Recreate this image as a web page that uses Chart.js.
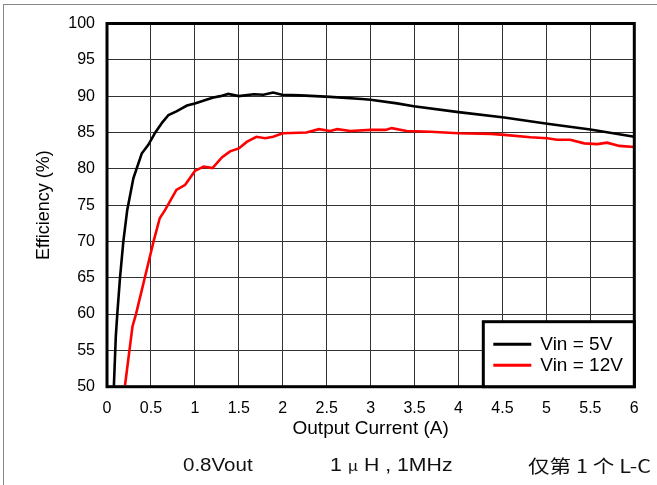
<!DOCTYPE html>
<html lang="zh">
<head>
  <meta charset="UTF-8">
  <script src="https://cdn.jsdelivr.net/npm/chart.js"></script>
  <title>Efficiency vs Output Current</title>
  <style>
    html, body { margin: 0; padding: 0; background: #fff; }
    .page {
      position: relative;
      width: 657px;
      height: 485px;
      overflow: hidden;
      font-family: 'Liberation Sans', Arial, sans-serif;
    }
    .frame {
      position: absolute;
      left: 3px; top: 4px; right: -10px; bottom: -10px;
      border-top: 1.5px solid #888;
      border-left: 1.5px solid #888;
    }
    canvas { position: absolute; left: 0; top: 0; }
    .note {
      position: absolute;
      top: 453px;
      font-size: 18px;
      line-height: 24px;
      color: #111;
      white-space: nowrap;
      transform-origin: left center;
    }
    .mu { font-family: 'Noto Sans CJK SC', serif; font-size: 14px; }
    .cjk { font-family: 'Noto Sans CJK SC', 'Liberation Sans', sans-serif; }
  </style>
</head>
<body>
  <div class="page">
    <div class="frame"></div>
    <canvas id="effChart" width="657" height="485"></canvas>
    <div class="note" style="left:183px; transform:scaleX(1.14)">0.8Vout</div>
    <div class="note" style="left:330px; transform:scaleX(1.18)">1 <span class="mu">μ</span> H , 1MHz</div>
    <div class="note cjk" style="left:528px; transform:scaleX(1.2)">仅第 1 个 L-C</div>
  </div>

  <script>
    // Vin = 5V
    const vin5Current = [0.078, 0.10, 0.117, 0.148, 0.186, 0.23, 0.30, 0.395, 0.47, 0.55, 0.63, 0.70, 0.79, 0.91, 1.0, 1.13, 1.21, 1.29, 1.38, 1.50, 1.67, 1.78, 1.89, 1.99, 2.2, 2.54, 2.9, 3.0, 3.30, 3.49, 4.0, 4.52, 5.01, 5.50, 6.0];
    const vin5Eff = [50, 56.9, 60, 65, 70, 74.3, 78.7, 82.1, 83.3, 85.0, 86.4, 87.4, 87.9, 88.7, 89.0, 89.5, 89.8, 90.0, 90.3, 90.0, 90.25, 90.2, 90.5, 90.2, 90.1, 89.9, 89.6, 89.5, 89.0, 88.6, 87.8, 87.05, 86.2, 85.4, 84.4];

    // Vin = 12V
    const vin12Current = [0.205, 0.29, 0.33, 0.43, 0.53, 0.60, 0.66, 0.79, 0.89, 1.0, 1.10, 1.20, 1.31, 1.40, 1.50, 1.59, 1.70, 1.80, 1.89, 2.0, 2.27, 2.41, 2.54, 2.62, 2.77, 3.0, 3.17, 3.24, 3.41, 3.68, 4.0, 4.37, 4.52, 4.82, 5.01, 5.12, 5.27, 5.43, 5.58, 5.69, 5.83, 6.0];
    const vin12Eff = [50.2, 58.3, 60, 65, 70, 73.2, 74.3, 77.1, 77.8, 79.7, 80.3, 80.1, 81.6, 82.4, 82.8, 83.7, 84.4, 84.2, 84.4, 84.9, 85.0, 85.45, 85.2, 85.45, 85.2, 85.35, 85.35, 85.6, 85.2, 85.1, 84.9, 84.8, 84.67, 84.35, 84.2, 84.0, 84.0, 83.5, 83.4, 83.6, 83.15, 83.0];

    const seriesLabels = ['Vin = 5V', 'Vin = 12V'];
    const xTickLabels = ['0', '0.5', '1', '1.5', '2', '2.5', '3', '3.5', '4', '4.5', '5', '5.5', '6'];
    const yTickLabels = ['50', '55', '60', '65', '70', '75', '80', '85', '90', '95', '100'];

    const toPoints = (xs, ys) => xs.map((x, i) => ({ x: x, y: ys[i] }));

    // frame around plot + legend box in the lower right corner
    const framePlugin = {
      id: 'frame',
      afterDatasetsDraw(chart) {
        const ctx = chart.ctx;
        const a = chart.chartArea;
        ctx.save();
        ctx.strokeStyle = '#000';
        ctx.lineWidth = 3;
        ctx.strokeRect(a.left, a.top, a.right - a.left, a.bottom - a.top);

        const bx = a.right - 151, by = a.bottom - 65;
        ctx.fillStyle = '#fff';
        ctx.fillRect(bx, by, a.right - bx, a.bottom - by);
        ctx.strokeRect(bx, by, a.right - bx, a.bottom - by);

        ctx.font = '19px "Liberation Sans", Arial, sans-serif';
        ctx.textBaseline = 'middle';
        chart.data.datasets.forEach((ds, i) => {
          const y = by + 22.5 + i * 21;
          ctx.strokeStyle = ds.borderColor;
          ctx.lineWidth = 3;
          ctx.beginPath();
          ctx.moveTo(bx + 10, y);
          ctx.lineTo(bx + 48, y);
          ctx.stroke();
          ctx.fillStyle = '#000';
          ctx.fillText(ds.label, bx + 57, y + 1);
        });
        ctx.restore();
      }
    };

    const ctx = document.getElementById('effChart').getContext('2d');
    new Chart(ctx, {
      type: 'line',
      data: {
        datasets: [
          {
            label: seriesLabels[0],
            data: toPoints(vin5Current, vin5Eff),
            borderColor: '#000000',
            borderWidth: 2.6,
            pointRadius: 0,
            tension: 0
          },
          {
            label: seriesLabels[1],
            data: toPoints(vin12Current, vin12Eff),
            borderColor: '#ff0000',
            borderWidth: 2.6,
            pointRadius: 0,
            tension: 0
          }
        ]
      },
      options: {
        responsive: false,
        animation: false,
        layout: { padding: { left: 29, top: 23.5, right: 22.7, bottom: 41.5 } },
        plugins: {
          legend: { display: false },
          tooltip: { enabled: false }
        },
        scales: {
          x: {
            type: 'linear',
            min: 0,
            max: 6,
            afterFit: (s) => { s.height = 56.8; },
            border: { display: false },
            grid: { color: '#333', lineWidth: 1, drawTicks: false },
            ticks: {
              stepSize: 0.5,
              autoSkip: false,
              maxRotation: 0,
              padding: 12.7,
              color: '#000',
              font: { family: '"Liberation Sans", Arial, sans-serif', size: 16 },
              callback: (v, i) => xTickLabels[i]
            },
            title: {
              display: true,
              text: 'Output Current (A)',
              color: '#000',
              font: { family: '"Liberation Sans", Arial, sans-serif', size: 19 },
              padding: { top: 4, bottom: 3.5 }
            }
          },
          y: {
            min: 50,
            max: 100,
            afterFit: (s) => { s.width = 78; },
            border: { display: false },
            grid: { color: '#333', lineWidth: 1, drawTicks: false },
            ticks: {
              stepSize: 5,
              padding: 12,
              color: '#000',
              font: { family: '"Liberation Sans", Arial, sans-serif', size: 16 },
              callback: (v, i) => yTickLabels[i]
            },
            title: {
              display: true,
              text: 'Efficiency (%)',
              color: '#000',
              font: { family: '"Liberation Sans", Arial, sans-serif', size: 18 },
              padding: { top: 4, bottom: 4 }
            }
          }
        }
      },
      plugins: [framePlugin]
    });
  </script>
</body>
</html>
